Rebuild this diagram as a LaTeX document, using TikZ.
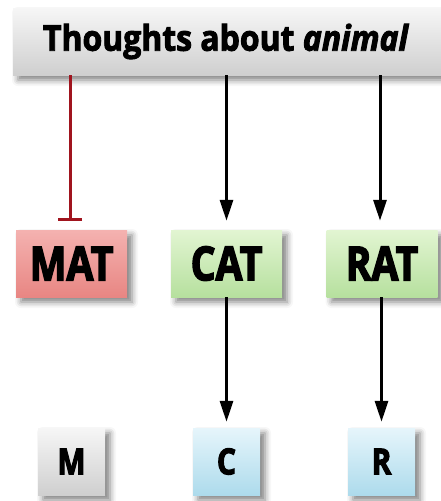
\documentclass[tikz,border=0pt]{standalone}
\usepackage{fontspec}
\setmainfont{Open Sans}[BoldFeatures={FakeBold=2.5, FakeStretch=0.9}, BoldItalicFeatures={FakeBold=2.5, FakeStretch=0.9}]
\newfontfamily\labelfont{Open Sans}[BoldFeatures={FakeBold=3, FakeStretch=0.83}]
\usetikzlibrary{arrows.meta,shadows.blur}
\definecolor{linkred}{HTML}{A0141E}
\definecolor{greytop}{HTML}{F6F6F6}
\definecolor{greybot}{HTML}{CFCFCF}
\definecolor{redtop}{HTML}{F4B2B0}
\definecolor{redbot}{HTML}{E88683}
\definecolor{greentop}{HTML}{E2F5D2}
\definecolor{greenbot}{HTML}{B6E09E}
\definecolor{bluetop}{HTML}{E6F5FB}
\definecolor{bluebot}{HTML}{ADDBEC}
\tikzset{
  card/.style={rectangle, inner sep=0pt,
    blur shadow={shadow xshift=5pt, shadow yshift=-5pt, shadow blur radius=6pt, shadow opacity=50}},
  greycard/.style={card, top color=greytop, bottom color=greybot},
  redcard/.style={card, top color=redtop, bottom color=redbot},
  greencard/.style={card, top color=greentop, bottom color=greenbot},
  bluecard/.style={card, top color=bluetop, bottom color=bluebot},
  wordcard/.style={minimum width=111pt, minimum height=67pt, font=\labelfont\fontsize{47}{47}\bfseries\selectfont},
  lettercard/.style={minimum width=67pt, minimum height=67pt, font=\labelfont\fontsize{36}{36}\bfseries\selectfont},
  excite/.style={line width=3pt, -{Triangle[width=13pt,length=21pt]}},
  inhibit/.style={line width=3pt, draw=linkred, -{Bar[width=24pt,line width=3pt]}}
}
\begin{document}
\begin{tikzpicture}[x=1pt, y=-1pt]
\useasboundingbox (0,0) rectangle (441,501);
% thought box
\node[greycard, minimum width=434pt, minimum height=67pt, font=\fontsize{35.5}{35.5}\bfseries\selectfont]
  (top) at (230,41.5) {\hspace*{-8pt}Thoughts about \textit{animal}};
% word layer
\node[redcard, wordcard] (mat) at (71.5,263.5) {MAT};
\node[greencard, wordcard] (cat) at (226.5,263.5) {CAT};
\node[greencard, wordcard] (rat) at (382,263.5) {RAT};
% letter layer
\node[greycard, lettercard] (m) at (71.5,461.5) {M};
\node[bluecard, lettercard] (c) at (226.5,461.5) {C};
\node[bluecard, lettercard] (r) at (381.5,461.5) {R};
% links
\draw[inhibit, shorten >=9pt] (top.south -| 70,0) -- (mat.north -| 70,0);
\draw[excite, shorten >=9pt] (top.south -| cat.north) -- (cat.north);
\draw[excite, shorten >=9pt] (top.south -| 380,0) -- (rat.north -| 380,0);
\draw[excite, shorten >=6pt] (cat.south) -- (c.north);
\draw[excite, shorten >=6pt] (rat.south -| r.north) -- (r.north);
\end{tikzpicture}
\end{document}
